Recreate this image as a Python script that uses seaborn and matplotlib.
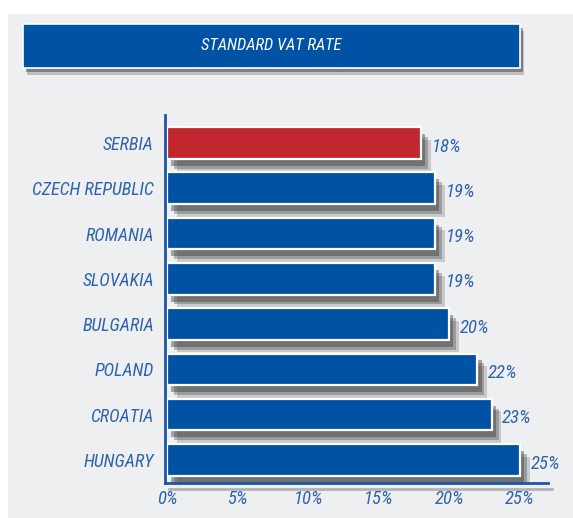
import matplotlib
matplotlib.use("Agg")
import matplotlib.pyplot as plt
import matplotlib.patheffects as pe
from matplotlib.patches import Rectangle
from matplotlib import font_manager
import seaborn as sns
import pandas as pd

countries = ["SERBIA", "CZECH REPUBLIC", "ROMANIA", "SLOVAKIA",
             "BULGARIA", "POLAND", "CROATIA", "HUNGARY"]
vat_rates = [18, 19, 19, 19, 20, 22, 23, 25]
bar_colors = ["#c1272d"] + ["#0052a5"] * 7
x_ticks = [0, 5, 10, 15, 20, 25]
title = "STANDARD VAT RATE"

df = pd.DataFrame({"country": countries, "rate": vat_rates})

sns.set_style("white")
installed = {f.name for f in font_manager.fontManager.ttflist}
narrow = [n for n in ["Roboto Condensed", "Liberation Sans Narrow", "Roboto"] if n in installed]
plt.rcParams["font.family"] = narrow[:1] + ["DejaVu Sans"]

txt_blue = "#2f63ad"
line_blue = "#1d56a6"

fig = plt.figure(figsize=(5.73, 5.18), dpi=100)
fig.patch.set_facecolor("white")

# light grey panel behind everything
fig.patches.append(Rectangle((8 / 573, 0), 1, 1 - 14 / 518, transform=fig.transFigure,
                             facecolor="#eeeff1", edgecolor="none", zorder=0))

# title banner
banner = Rectangle((23 / 573, 1 - 68 / 518), 497 / 573, 44 / 518, transform=fig.transFigure,
                   facecolor="#0052a5", edgecolor="white", linewidth=1.2, zorder=1,
                   path_effects=[pe.SimplePatchShadow(offset=(3, -5), shadow_rgbFace="#333333", alpha=0.25),
                                 pe.SimplePatchShadow(offset=(2, -3), shadow_rgbFace="#333333", alpha=0.45),
                                 pe.Normal()])
fig.patches.append(banner)
fig.text(271 / 573, 1 - 46 / 518, title, color="white", fontsize=12, style="italic",
         ha="center", va="center", zorder=2)

ax = fig.add_axes([165 / 573, 1 - 483 / 518, 383 / 573, 368 / 518])
ax.set_facecolor("none")
ax.set_zorder(5)

sns.barplot(data=df, x="rate", y="country", orient="h", hue="country",
            palette=bar_colors, saturation=1, legend=False, width=0.7, ax=ax,
            edgecolor="white", linewidth=1.6)

for p in ax.patches:
    p.set_path_effects([pe.SimplePatchShadow(offset=(7, -9), shadow_rgbFace="#333333", alpha=0.2),
                        pe.SimplePatchShadow(offset=(5, -7), shadow_rgbFace="#333333", alpha=0.3),
                        pe.SimplePatchShadow(offset=(3, -5), shadow_rgbFace="#333333", alpha=0.4),
                        pe.Normal()])

for i, v in enumerate(vat_rates):
    ax.text(v + 0.75, i + 0.08, f"{v}%", color=txt_blue, fontsize=13.5, style="italic",
            ha="left", va="center")

ax.set_xlim(-0.15, 27)
ax.set_ylim(7.51, -0.62)
ax.set_xticks(x_ticks)
ax.set_xticklabels([f"{t}%" for t in x_ticks])
ax.set_xlabel("")
ax.set_ylabel("")
ax.tick_params(axis="x", length=0, colors=txt_blue, labelsize=13.5, pad=5)
ax.tick_params(axis="y", length=0, colors=txt_blue, labelsize=13, pad=8)
for lab in ax.get_xticklabels() + ax.get_yticklabels():
    lab.set_style("italic")

for s in ["top", "right"]:
    ax.spines[s].set_visible(False)
for s in ["left", "bottom"]:
    ax.spines[s].set_color(line_blue)
    ax.spines[s].set_linewidth(2)
ax.spines["bottom"].set_path_effects([pe.SimpleLineShadow(offset=(3, -4), shadow_color="#777777", alpha=0.5),
                                      pe.Normal()])

fig.savefig("out.png", dpi=100)
